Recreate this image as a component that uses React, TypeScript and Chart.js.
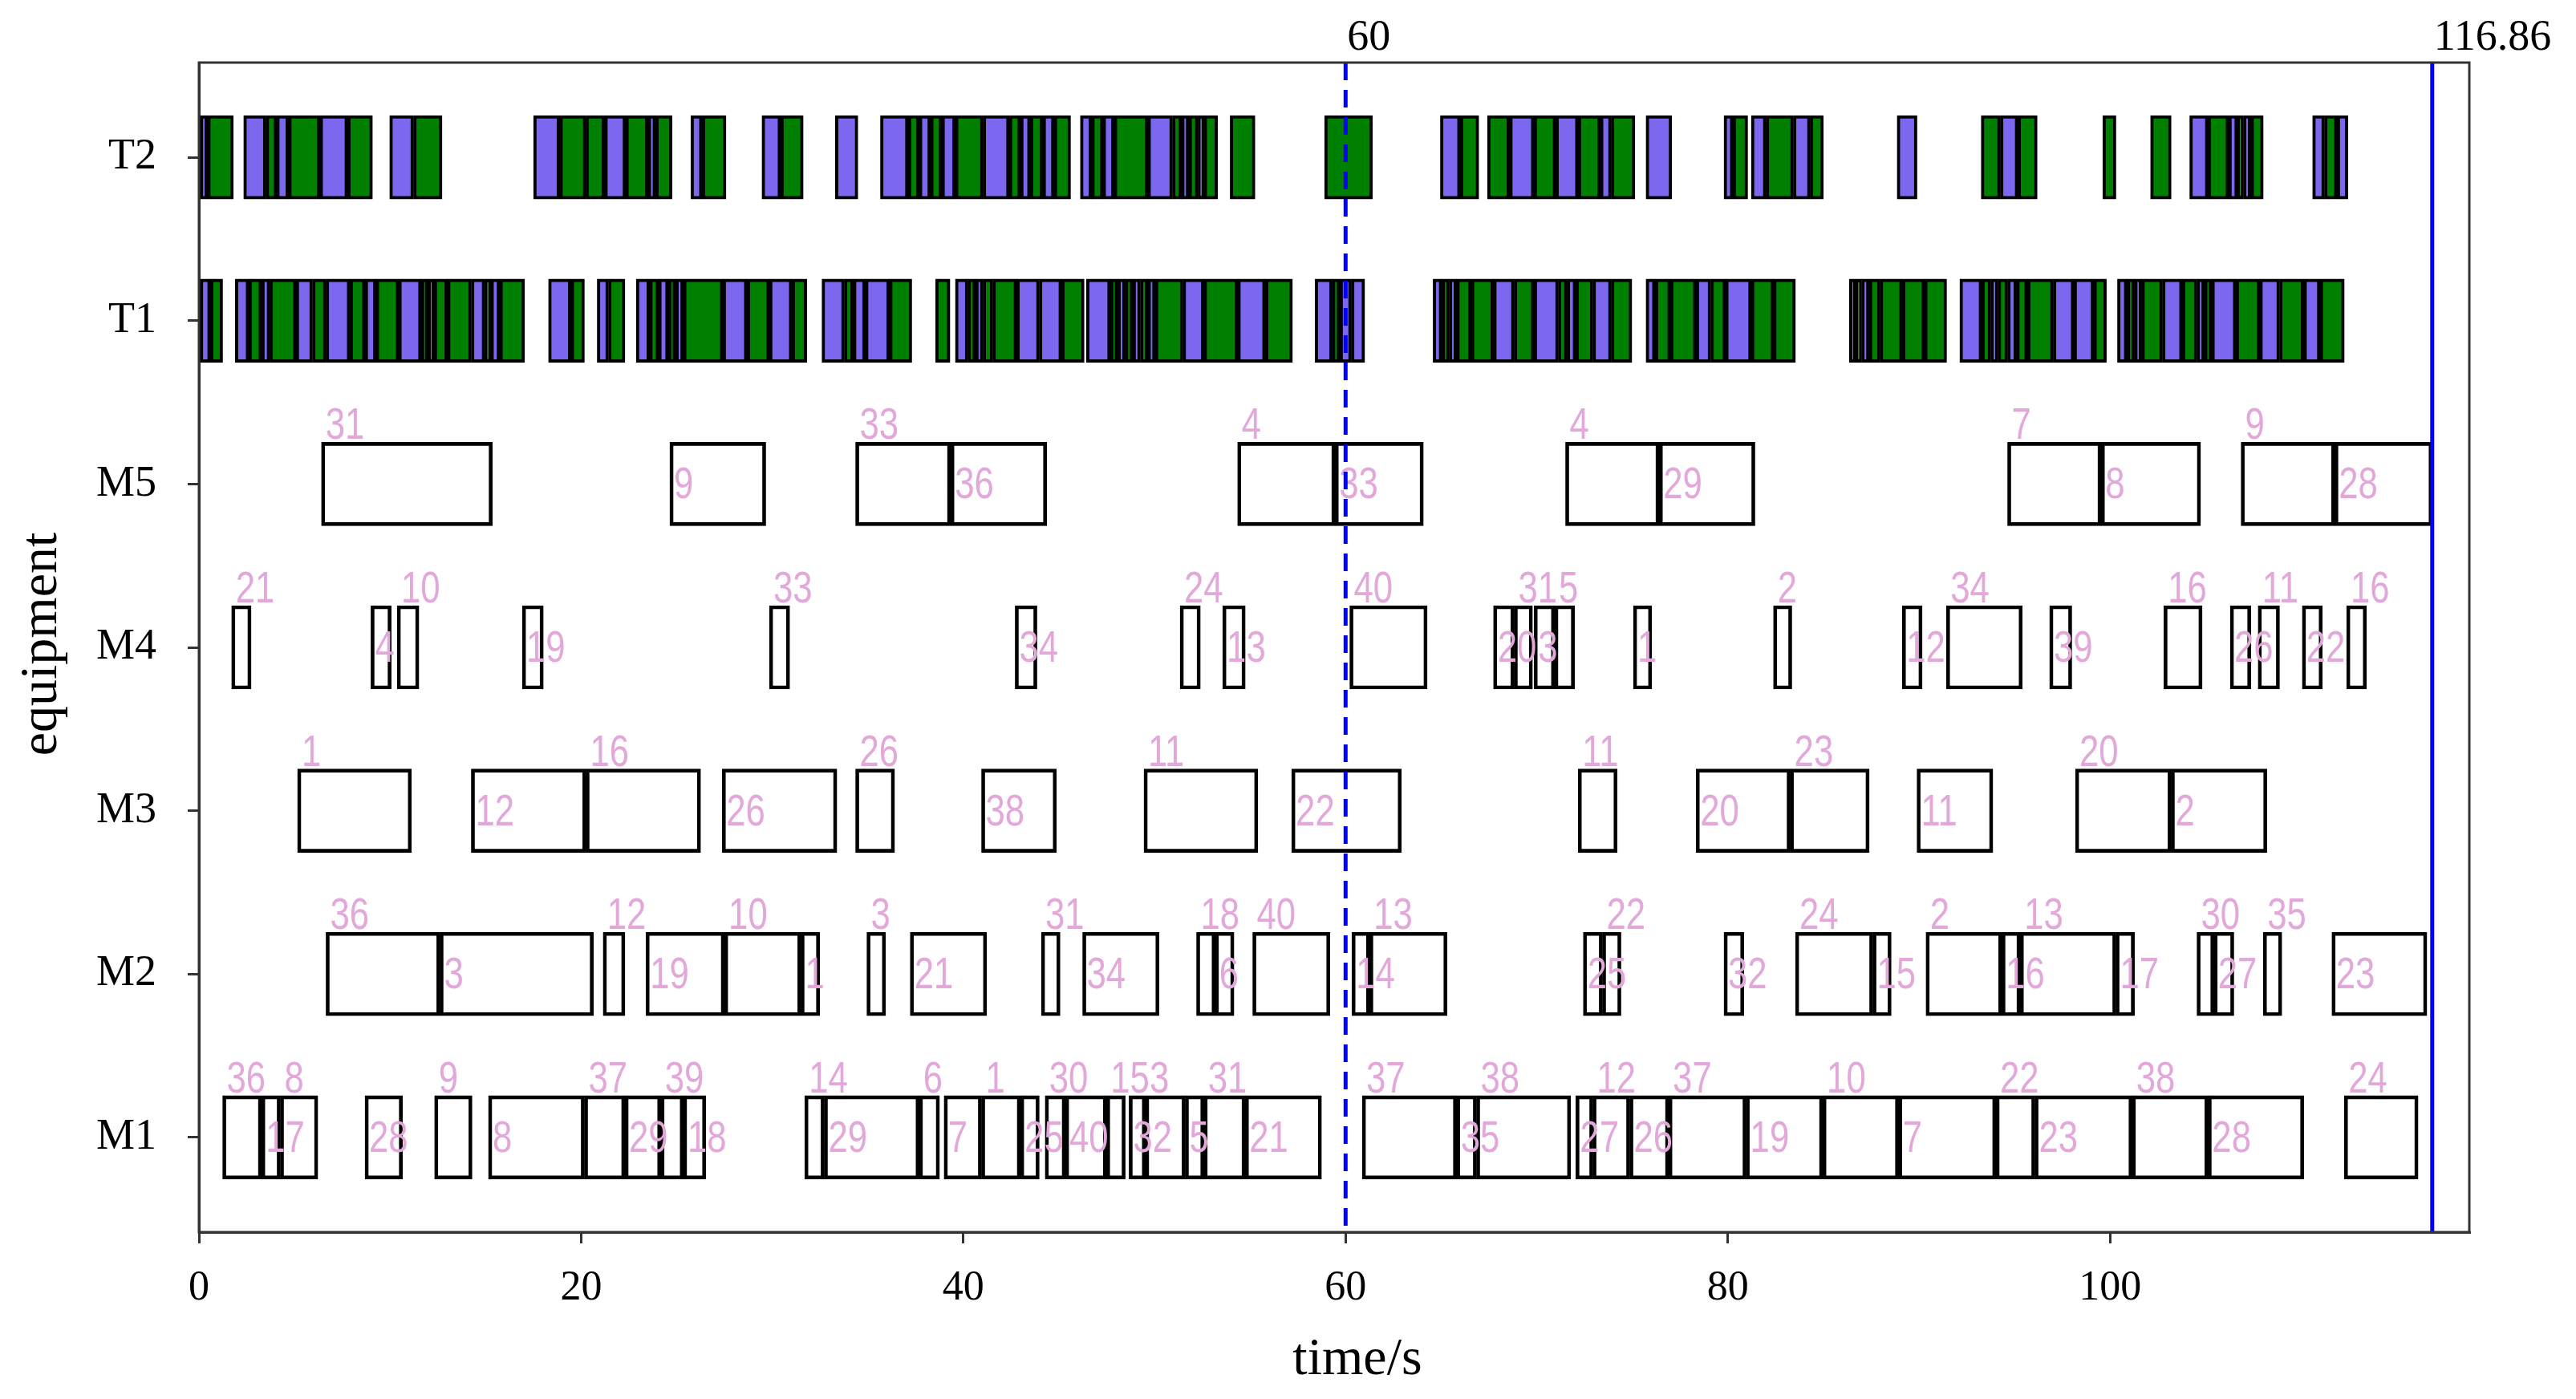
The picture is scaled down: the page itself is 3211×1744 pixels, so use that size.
import React, { useEffect, useRef } from 'react';
import { Chart, registerables } from 'chart.js';

Chart.register(...registerables);

// ---------------- data ----------------
const rowNames = ['M1', 'M2', 'M3', 'M4', 'M5', 'T1', 'T2'];
const xTickValues = [0, 20, 40, 60, 80, 100];
const markerTimes = [60, 116.86];
const markerLabels = ['60', '116.86'];

const M1_spans: [number, number][] = [
  [1.24, 3.28], [3.28, 4.26], [4.26, 6.22], [8.69, 10.65], [12.33, 14.29], [15.15, 20.17],
  [20.17, 22.29], [22.29, 24.17], [24.17, 25.35], [25.35, 26.52], [31.7, 32.72], [32.72, 37.69],
  [37.69, 38.75], [38.99, 40.95], [40.95, 42.99], [42.99, 43.97], [44.28, 45.34], [45.34, 47.49],
  [47.49, 48.47], [48.67, 49.53], [49.53, 51.61], [51.61, 52.59], [52.59, 54.75], [54.75, 58.74],
  [60.87, 65.81], [65.81, 66.85], [66.85, 71.78], [72.05, 72.94], [72.94, 74.87], [74.87, 76.91],
  [76.91, 80.96], [80.96, 84.97], [84.97, 88.94], [88.94, 94.03], [94.03, 96.07], [96.07, 101.16],
  [101.16, 105.13], [105.13, 110.14], [112.26, 116.12],
];
const M1_jobs = [36, 17, 8, 28, 9, 8, 37, 29, 39, 18, 14, 29, 6, 7, 1, 25, 30, 40, 15, 32, 3, 5, 31, 21,
  37, 35, 38, 27, 12, 26, 37, 19, 10, 7, 22, 23, 38, 28, 24];

const M2_spans: [number, number][] = [
  [6.65, 12.61], [12.61, 20.64], [21.15, 22.29], [23.39, 27.5], [27.5, 31.5], [31.5, 32.48],
  [34.95, 35.93], [37.22, 41.22], [44.08, 45.06], [46.24, 50.24], [52.2, 53.18], [53.18, 54.16],
  [55.14, 59.18], [60.33, 61.26], [61.26, 65.31], [72.44, 73.44], [73.44, 74.41], [79.8, 80.84],
  [83.54, 87.59], [87.59, 88.55], [90.37, 94.34], [94.34, 95.3], [95.3, 100.31], [100.31, 101.28],
  [104.55, 105.44], [105.44, 106.48], [108.02, 108.99], [111.61, 116.58],
];
const M2_jobs = [36, 3, 12, 19, 10, 1, 3, 21, 31, 34, 18, 6, 40, 14, 13, 25, 22, 32, 24, 15, 2, 16, 13, 17, 30, 27, 35, 23];

const M3_spans: [number, number][] = [
  [5.16, 11.12], [14.25, 20.25], [20.25, 26.25], [27.38, 33.38], [34.36, 36.4], [40.95, 44.87],
  [49.45, 55.41], [57.18, 62.92], [72.17, 74.21], [78.34, 83.27], [83.27, 87.4], [89.9, 93.87],
  [98.19, 103.2], [103.2, 108.21],
];
const M3_jobs = [1, 12, 16, 26, 26, 38, 11, 22, 11, 20, 23, 11, 20, 2];

const M4_spans: [number, number][] = [
  [1.71, 2.73], [9.0, 10.06], [10.37, 11.51], [16.92, 18.02], [29.85, 30.91], [42.71, 43.85],
  [51.34, 52.4], [53.57, 54.75], [60.22, 64.27], [67.74, 68.82], [68.82, 69.78], [69.86, 70.94],
  [70.94, 71.98], [75.06, 76.02], [82.39, 83.35], [89.13, 90.17], [91.44, 95.41], [96.84, 98.0],
  [102.82, 104.82], [106.29, 107.37], [107.75, 108.87], [110.06, 111.11], [112.38, 113.42],
];
const M4_jobs = [21, 4, 10, 19, 33, 34, 24, 13, 40, 20, 31, 3, 5, 1, 2, 12, 34, 39, 16, 26, 11, 22, 16];

const M5_spans: [number, number][] = [
  [6.41, 15.35], [24.64, 29.66], [34.36, 39.34], [39.34, 44.36], [54.35, 59.45], [59.45, 64.07],
  [71.51, 76.41], [76.41, 81.42], [94.64, 99.54], [99.54, 104.74], [106.86, 111.76], [111.76, 116.86],
];
const M5_jobs = [31, 9, 33, 36, 4, 33, 4, 29, 7, 8, 9, 28];

const T1_purple: [number, number][] = [
  [0, 0.6], [1.9, 2.61], [3.28, 3.71], [5.08, 5.94], [6.65, 7.9], [8.69, 9.27], [10.45, 11.63],
  [12.0, 12.3], [14.25, 14.96], [15.27, 15.74], [18.29, 19.47], [20.84, 21.43], [22.88, 23.58],
  [24.05, 24.56], [24.95, 25.35], [27.42, 28.68], [29.85, 31.03], [32.6, 33.77], [34.24, 34.87],
  [34.87, 36.13], [39.58, 40.24], [40.64, 41.03], [42.79, 43.97], [43.97, 45.14], [46.44, 47.69],
  [48.08, 48.47], [48.87, 49.26], [49.65, 50.04], [51.49, 52.59], [54.35, 55.8], [58.4, 59.3],
  [59.7, 60.3], [60.3, 61.0], [64.58, 65.04], [65.42, 65.81], [67.74, 68.82], [69.86, 71.13],
  [71.59, 72.05], [72.94, 73.9], [75.72, 76.2], [78.34, 79.11], [79.88, 81.23], [86.36, 86.7],
  [87.0, 87.4], [92.14, 93.29], [93.76, 94.14], [94.64, 95.11], [97.03, 98.11], [98.11, 99.15],
  [100.39, 100.89], [101.28, 101.66], [102.74, 103.78], [104.55, 104.94], [105.32, 106.59],
  [107.83, 108.87], [110.14, 110.99],
];
const T1_green: [number, number][] = [
  [0.6, 1.24], [2.61, 3.28], [3.71, 5.08], [5.94, 6.65], [7.9, 8.69], [9.27, 10.45], [11.63, 12.0],
  [12.3, 13.0], [13.0, 14.25], [14.96, 15.27], [15.74, 17.04], [19.47, 20.17], [21.43, 22.29],
  [23.58, 24.05], [24.56, 24.95], [25.35, 27.42], [28.68, 29.85], [31.03, 31.81], [33.77, 34.24],
  [36.13, 37.3], [38.55, 39.3], [40.24, 40.64], [41.03, 41.54], [41.54, 42.79], [45.14, 46.32],
  [47.69, 48.08], [48.47, 48.87], [49.26, 49.65], [50.04, 51.49], [52.59, 54.35], [55.8, 57.22],
  [59.3, 59.7], [65.04, 65.42], [65.81, 66.58], [66.58, 67.74], [68.82, 69.86], [71.13, 71.59],
  [72.05, 72.94], [73.9, 74.98], [76.2, 77.0], [77.0, 78.34], [79.11, 79.88], [81.23, 82.39],
  [82.39, 83.54], [86.7, 87.0], [87.4, 87.97], [87.97, 89.13], [89.13, 90.29], [90.29, 91.45],
  [93.29, 93.76], [94.14, 94.64], [95.11, 95.68], [95.68, 97.03], [99.15, 99.81], [100.89, 101.28],
  [101.66, 102.74], [103.78, 104.55], [104.94, 105.32], [106.59, 107.83], [108.87, 110.14],
  [110.99, 112.26],
];

const T2_purple: [number, number][] = [
  [0, 0.45], [2.34, 3.51], [4.06, 4.69], [6.33, 7.78], [9.98, 11.23], [17.51, 18.88], [21.23, 22.33],
  [23.5, 23.9], [25.74, 26.33], [29.46, 30.44], [33.3, 34.48], [35.66, 37.11], [37.69, 38.28],
  [38.87, 39.58], [41.03, 42.4], [42.99, 43.5], [44.16, 44.75], [46.12, 46.71], [47.3, 47.89],
  [49.65, 50.94], [51.41, 51.8], [52.28, 52.59], [64.96, 66.0], [68.58, 69.86], [71.0, 72.17],
  [73.33, 73.9], [75.72, 77.07], [79.8, 80.27], [81.23, 82.0], [83.43, 84.31], [88.86, 89.9],
  [94.26, 95.18], [104.17, 105.13], [106.21, 106.67], [106.98, 107.37], [110.6, 111.22],
  [111.88, 112.45],
];
const T2_green: [number, number][] = [
  [0.45, 1.8], [3.51, 4.06], [4.69, 6.33], [7.78, 9.08], [11.23, 12.72], [18.88, 20.25], [20.25, 21.23],
  [22.33, 23.5], [23.9, 24.76], [26.33, 27.58], [30.44, 31.62], [37.11, 37.69], [38.28, 38.87],
  [39.58, 41.03], [42.4, 42.99], [43.5, 44.16], [44.75, 45.61], [46.71, 47.3], [47.89, 49.65],
  [50.94, 51.41], [51.8, 52.28], [52.59, 53.3], [53.96, 55.26], [58.9, 61.4], [66.0, 66.97],
  [67.43, 68.58], [69.86, 71.0], [72.17, 73.33], [73.9, 75.14], [80.27, 81.04], [82.0, 83.43],
  [84.31, 85.0], [93.26, 94.26], [95.18, 96.19], [99.62, 100.31], [102.12, 103.2], [105.13, 106.21],
  [106.67, 106.98], [107.37, 108.02], [111.22, 111.88],
];

const M_spans = [M1_spans, M2_spans, M3_spans, M4_spans, M5_spans];
const M_jobs = [M1_jobs, M2_jobs, M3_jobs, M4_jobs, M5_jobs];

// ---------------- styles ----------------
const W = 3211;
const H = 1744;
const AREA = { left: 248, right: 3078, top: 78, bottom: 1536 };
const BAR_H = 104;
const PURPLE = 'rgb(123,104,238)';
const GREEN = 'rgb(0,128,0)';
const PINK = 'rgb(226,168,218)';
const SERIF = '"Liberation Serif", "Times New Roman", serif';
const SANS = '"Liberation Sans", Arial, sans-serif';

const toBars = (spans: [number, number][], row: number) => spans.map(([s, e]) => ({ x: [s, e], y: row }));

const extras = {
  id: 'ganttExtras',
  afterDatasetsDraw(chart: any) {
    const { ctx, chartArea, scales } = chart;
    const xs = scales.x;
    const ys = scales.y;
    ctx.save();
    // job labels (condensed sans)
    ctx.fillStyle = PINK;
    ctx.font = `56px ${SANS}`;
    ctx.textAlign = 'left';
    ctx.textBaseline = 'alphabetic';
    M_spans.forEach((spans, r) => {
      const yc = ys.getPixelForValue(r);
      spans.forEach(([s], i) => {
        const px = xs.getPixelForValue(s) + 5;
        const txt = String(M_jobs[r][i]);
        const py = i % 2 === 0 ? yc - BAR_H / 2 - 4 : yc + 18;
        ctx.save();
        ctx.translate(px, py);
        ctx.scale(0.78, 1);
        ctx.fillText(txt, 0, 0);
        ctx.restore();
      });
    });
    // marker lines
    ctx.strokeStyle = 'rgb(0,0,255)';
    ctx.lineWidth = 5;
    markerTimes.forEach((t, i) => {
      const px = xs.getPixelForValue(t);
      ctx.setLineDash(i === 0 ? [22, 12] : []);
      ctx.beginPath();
      ctx.moveTo(px, chartArea.top);
      ctx.lineTo(px, chartArea.bottom);
      ctx.stroke();
      ctx.setLineDash([]);
      ctx.fillStyle = '#000';
      ctx.font = `54px ${SERIF}`;
      ctx.textAlign = 'left';
      ctx.textBaseline = 'alphabetic';
      ctx.fillText(markerLabels[i], px + 2, 62);
    });
    // frame
    ctx.strokeStyle = '#333';
    ctx.lineWidth = 3;
    ctx.strokeRect(chartArea.left, chartArea.top, chartArea.right - chartArea.left, chartArea.bottom - chartArea.top);
    // axis titles
    ctx.fillStyle = '#000';
    ctx.font = `66px ${SERIF}`;
    ctx.textAlign = 'center';
    ctx.textBaseline = 'middle';
    ctx.fillText('time/s', 1692, 1696);
    ctx.translate(53, 803);
    ctx.rotate(-Math.PI / 2);
    ctx.fillText('equipment', 0, 0);
    ctx.restore();
  },
};

export default function App() {
  const ref = useRef<HTMLCanvasElement>(null);
  useEffect(() => {
    document.body.style.margin = '0';
    document.body.style.overflow = 'hidden';
    const canvas = ref.current;
    if (!canvas) return;
    const mData: any[] = [];
    M_spans.forEach((sp, r) => mData.push(...toBars(sp, r)));
    const chart = new Chart(canvas, {
      type: 'bar',
      data: {
        datasets: [
          {
            label: 'machines',
            data: mData,
            backgroundColor: 'rgba(255,255,255,0)',
            borderColor: '#000',
            borderWidth: 4,
            borderSkipped: false,
          },
          {
            label: 'transport A',
            data: [...toBars(T1_purple, 5), ...toBars(T2_purple, 6)],
            backgroundColor: PURPLE,
            borderColor: '#000',
            borderWidth: 4,
            borderSkipped: false,
          },
          {
            label: 'transport B',
            data: [...toBars(T1_green, 5), ...toBars(T2_green, 6)],
            backgroundColor: GREEN,
            borderColor: '#000',
            borderWidth: 4,
            borderSkipped: false,
          },
        ] as any,
      },
      options: {
        indexAxis: 'y',
        animation: false,
        responsive: false,
        maintainAspectRatio: false,
        devicePixelRatio: 1,
        grouped: false,
        barThickness: BAR_H,
        layout: { padding: { left: 0, right: W - AREA.right, top: AREA.top, bottom: 0 } },
        plugins: { legend: { display: false }, tooltip: { enabled: false } },
        scales: {
          x: {
            type: 'linear',
            min: 0,
            max: 118.8,
            offset: false,
            afterBuildTicks: (s: any) => { s.ticks = xTickValues.map((v) => ({ value: v })); },
            afterFit: (s: any) => { s.height = H - AREA.bottom; },
            ticks: { color: '#000', font: { family: SERIF, size: 52 }, padding: 25, maxRotation: 0 },
            grid: { display: true, offset: false, drawOnChartArea: false, drawTicks: true, tickLength: 14, color: '#333', lineWidth: 3 },
            border: { display: true, color: '#333', width: 3 },
          },
          y: {
            type: 'linear',
            min: -0.58,
            max: 6.58,
            offset: false,
            afterBuildTicks: (s: any) => { s.ticks = rowNames.map((_, i) => ({ value: i })); },
            afterFit: (s: any) => { s.width = AREA.left; },
            ticks: {
              color: '#000',
              font: { family: SERIF, size: 54 },
              padding: 39,
              callback: (v: any) => rowNames[Math.round(Number(v))] ?? '',
            },
            grid: { display: true, offset: false, drawOnChartArea: false, drawTicks: true, tickLength: 14, color: '#333', lineWidth: 3 },
            border: { display: true, color: '#333', width: 3 },
          },
        },
      } as any,
      plugins: [extras],
    });
    return () => chart.destroy();
  }, []);
  return (
    <div style={{ width: W, height: H }}>
      <canvas ref={ref} width={W} height={H} style={{ display: 'block', width: W, height: H }} />
    </div>
  );
}
